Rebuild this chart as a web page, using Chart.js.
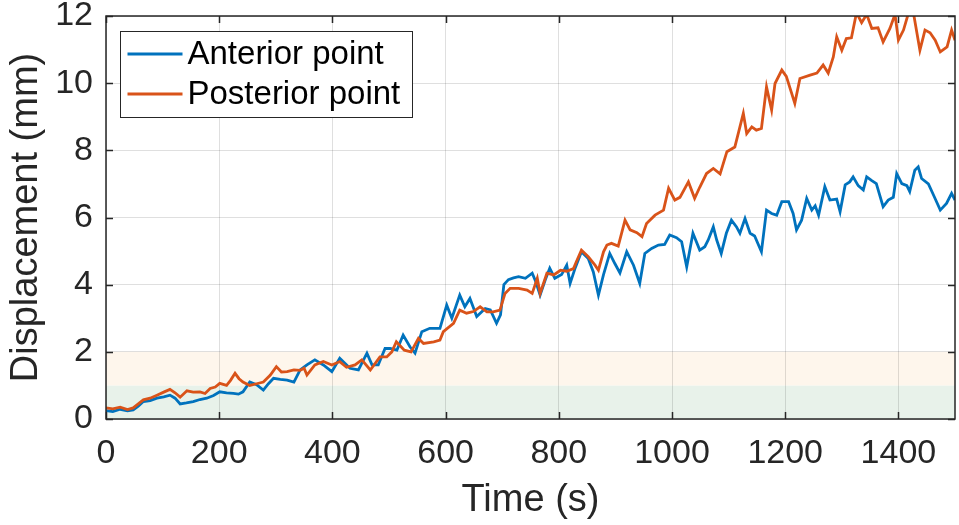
<!DOCTYPE html>
<html lang="en">
  <head>
    <meta charset="UTF-8" />
    <title>Displacement vs Time</title>
    <script src="https://cdn.jsdelivr.net/npm/chart.js"></script>
    <style>
      html,
      body {
        margin: 0;
        padding: 0;
        background: white;
      }
      #chartContainer {
        width: 959px;
        height: 525px;
      }
    </style>
  </head>
  <body>
    <div id="chartContainer">
      <canvas id="dispChart" width="959" height="525"></canvas>
    </div>

    <script>
      // values (time in s, displacement in mm)
      const timeAnterior = [
        0, 12, 25, 38, 48, 57, 66, 78, 90, 102, 113, 122, 131, 142, 154, 166,
        178, 190, 201, 213, 225, 234, 242, 254, 266, 278, 287, 296, 308, 320,
        332, 343, 355, 369, 384, 399, 413, 422, 431, 446, 461, 470, 481, 493,
        502, 514, 525, 537, 546, 558, 572, 590, 602, 611, 625, 634, 643, 655,
        670, 679, 690, 697, 703, 711, 720, 729, 741, 753, 759, 767, 776, 784,
        793, 805, 814, 820, 829, 840, 852, 861, 870, 879, 890, 899, 908, 920,
        932, 943, 952, 964, 976, 987, 996, 1008, 1017, 1026, 1037, 1049, 1058,
        1064, 1073, 1079, 1087, 1096, 1105, 1114, 1120, 1129, 1138, 1146, 1158,
        1167, 1176, 1185, 1194, 1206, 1214, 1220, 1229, 1238, 1247, 1253, 1259,
        1270, 1279, 1291, 1297, 1306, 1314, 1320, 1329, 1338, 1344, 1353, 1361,
        1373, 1382, 1391, 1397, 1406, 1415, 1420, 1429, 1435, 1441, 1453, 1462,
        1474, 1485, 1494, 1500,
      ]
      const anterior = [
        0.25, 0.22, 0.29, 0.24, 0.27, 0.38, 0.52, 0.55, 0.62, 0.66, 0.71, 0.62,
        0.45, 0.48, 0.52, 0.58, 0.62, 0.7, 0.81, 0.78, 0.76, 0.74, 0.81, 1.1,
        1.02, 0.86, 1.05, 1.21, 1.18, 1.16, 1.1, 1.46, 1.61, 1.76, 1.61, 1.41,
        1.81, 1.66, 1.51, 1.46, 1.96, 1.61, 1.61, 2.1, 2.1, 2.05, 2.5, 2.15,
        1.96, 2.6, 2.7, 2.7, 3.39, 3.0, 3.69, 3.34, 3.59, 3.05, 3.29, 3.25,
        2.85, 3.1, 4.0, 4.15, 4.2, 4.24, 4.19, 4.34, 4.1, 3.69, 4.14, 4.49,
        4.19, 4.3, 4.58, 4.04, 4.5, 4.98, 4.78, 4.38, 3.69, 4.3, 4.93, 4.63,
        4.35, 4.98, 4.58, 4.04, 4.93, 5.08, 5.18, 5.2, 5.48, 5.4, 5.28, 4.53,
        5.53, 5.03, 5.13, 5.33, 5.72, 5.33, 4.93, 5.53, 5.92, 5.72, 5.53, 5.97,
        5.53, 5.45, 4.98, 6.22, 6.12, 6.07, 6.47, 6.47, 6.12, 5.63, 5.92, 6.57,
        6.22, 6.35, 6.07, 6.92, 6.52, 6.55, 6.17, 6.97, 7.06, 7.21, 6.95, 6.82,
        7.21, 7.1, 7.01, 6.32, 6.52, 6.6, 7.31, 7.01, 6.95, 6.77, 7.41, 7.51,
        7.16, 7.0, 6.67, 6.22, 6.42, 6.72, 6.52,
      ]

      const timePosterior = [
        0, 12, 25, 38, 48, 57, 66, 78, 90, 102, 113, 122, 131, 143, 154, 166,
        175, 184, 193, 201, 213, 220, 228, 235, 242, 254, 266, 278, 290, 301,
        310, 320, 332, 343, 350, 355, 369, 384, 399, 413, 425, 440, 452, 467,
        484, 496, 505, 513, 527, 539, 552, 561, 579, 590, 596, 614, 625, 637,
        649, 661, 673, 684, 696, 705, 714, 729, 744, 753, 762, 767, 779, 791,
        803, 814, 826, 831, 840, 852, 864, 870, 879, 885, 893, 905, 917, 926,
        938, 947, 955, 970, 985, 994, 1005, 1014, 1029, 1040, 1049, 1061, 1073,
        1085, 1097, 1111, 1120, 1126, 1132, 1141, 1149, 1158, 1167, 1176, 1182,
        1194, 1202, 1217, 1226, 1244, 1256, 1267, 1276, 1285, 1291, 1300, 1308,
        1317, 1326, 1335, 1344, 1353, 1364, 1373, 1385, 1394, 1400, 1409, 1418,
        1426, 1438, 1447, 1456, 1465, 1474, 1486, 1494, 1500,
      ]
      const posterior = [
        0.33, 0.3, 0.35, 0.28, 0.33, 0.45, 0.57, 0.62, 0.71, 0.8, 0.88, 0.78,
        0.65, 0.84, 0.8, 0.81, 0.76, 0.91, 0.95, 1.06, 1.0, 1.15, 1.36, 1.2,
        1.1, 1.0, 1.05, 1.1, 1.3, 1.56, 1.4, 1.41, 1.46, 1.45, 1.51, 1.31,
        1.61, 1.71, 1.61, 1.71, 1.54, 1.61, 1.76, 1.46, 1.85, 1.85, 2.0, 2.3,
        2.05, 2.0, 2.4, 2.25, 2.3, 2.35, 2.6, 2.85, 3.24, 3.15, 3.2, 3.34,
        3.19, 3.19, 3.24, 3.74, 3.89, 3.89, 3.84, 3.74, 4.19, 3.74, 4.34, 4.29,
        4.43, 4.4, 4.48, 4.68, 5.03, 4.83, 4.58, 4.43, 4.98, 5.18, 5.23, 5.15,
        5.92, 5.63, 5.55, 5.43, 5.82, 6.07, 6.22, 6.87, 6.52, 6.6, 7.06, 6.57,
        6.9, 7.31, 7.46, 7.3, 7.96, 8.1, 8.7, 9.1, 8.5, 8.7, 8.6, 8.65, 9.89,
        9.2, 9.99, 10.39, 10.2, 9.4, 10.14, 10.24, 10.3, 10.54, 10.3, 10.78,
        11.38, 10.98, 11.33, 11.35, 12.1, 11.8, 12.05, 11.63, 11.65, 11.23,
        11.63, 12.05, 11.28, 11.58, 12.1, 12.15, 10.98, 11.58, 11.5, 11.28,
        10.93, 11.08, 11.58, 11.28,
      ]

      const xTicks = [0, 200, 400, 600, 800, 1000, 1200, 1400]
      const yTicks = [0, 2, 4, 6, 8, 10, 12]
      const bandEdges = [0, 1, 2]

      const bandColors = ['#e8f2ea', '#fef6ec']
      const textColor = '#262626'
      const fontFamily = '"Liberation Sans", Arial, Helvetica, sans-serif'

      const toPoints = (xs, ys) => xs.map((x, i) => ({ x: x, y: ys[i] }))

      // shaded bands, box, inside ticks and legend like the MATLAB figure
      const framePlugin = {
        id: 'framePlugin',
        beforeDraw(chart) {
          const { ctx, chartArea: a, scales } = chart
          ctx.save()
          for (let i = 0; i < bandEdges.length - 1; i++) {
            const top = scales.y.getPixelForValue(bandEdges[i + 1])
            const bottom = scales.y.getPixelForValue(bandEdges[i])
            ctx.fillStyle = bandColors[i]
            ctx.fillRect(a.left, top, a.right - a.left, bottom - top)
          }
          ctx.restore()
        },
        afterDatasetsDraw(chart) {
          const { ctx, chartArea: a, scales } = chart
          const tick = 7
          ctx.save()
          ctx.strokeStyle = textColor
          ctx.lineWidth = 1.5
          ctx.beginPath()
          xTicks.forEach((v) => {
            const px = Math.round(scales.x.getPixelForValue(v)) + 0.5
            ctx.moveTo(px, a.bottom)
            ctx.lineTo(px, a.bottom - tick)
            ctx.moveTo(px, a.top)
            ctx.lineTo(px, a.top + tick)
          })
          yTicks.forEach((v) => {
            const py = Math.round(scales.y.getPixelForValue(v)) + 0.5
            ctx.moveTo(a.left, py)
            ctx.lineTo(a.left + tick, py)
            ctx.moveTo(a.right, py)
            ctx.lineTo(a.right - tick, py)
          })
          ctx.stroke()
          ctx.strokeRect(a.left, a.top, a.right - a.left, a.bottom - a.top)

          // legend box
          const lx = a.left + 14.5
          const ly = a.top + 15.5
          const lw = 292
          const lh = 86
          ctx.fillStyle = 'white'
          ctx.fillRect(lx, ly, lw, lh)
          ctx.lineWidth = 1
          ctx.strokeRect(lx, ly, lw, lh)
          ctx.font = '33px ' + fontFamily
          ctx.textBaseline = 'middle'
          ctx.textAlign = 'left'
          chart.data.datasets.forEach((ds, i) => {
            const rowY = ly + 22.5 + i * 40
            ctx.strokeStyle = ds.borderColor
            ctx.lineWidth = 2.8
            ctx.beginPath()
            ctx.moveTo(lx + 7, rowY)
            ctx.lineTo(lx + 62, rowY)
            ctx.stroke()
            ctx.fillStyle = '#000'
            ctx.fillText(ds.label, lx + 67, rowY + 1)
          })
          ctx.restore()
        },
      }

      const ctx = document.getElementById('dispChart').getContext('2d')
      const dispChart = new Chart(ctx, {
        type: 'line',
        data: {
          datasets: [
            {
              label: 'Anterior point',
              data: toPoints(timeAnterior, anterior),
              borderColor: '#0072BD',
              borderWidth: 2.8,
              pointRadius: 0,
              tension: 0,
              clip: 0,
              order: 1,
            },
            {
              label: 'Posterior point',
              data: toPoints(timePosterior, posterior),
              borderColor: '#D95319',
              borderWidth: 2.8,
              pointRadius: 0,
              tension: 0,
              clip: 0,
              order: 0,
            },
          ],
        },
        options: {
          responsive: false,
          animation: false,
          devicePixelRatio: 1,
          events: [],
          layout: { padding: { top: 16, right: 4, left: 0, bottom: 0 } },
          plugins: {
            legend: { display: false },
            tooltip: { enabled: false },
          },
          scales: {
            x: {
              type: 'linear',
              min: 0,
              max: 1500,
              afterBuildTicks: (s) => {
                s.ticks = xTicks.map((v) => ({ value: v }))
              },
              afterFit: (s) => {
                s.height = 106
                s.paddingLeft = 0
                s.paddingRight = 0
              },
              grid: { color: 'rgba(38,38,38,0.15)', drawTicks: false },
              border: { display: false },
              ticks: {
                autoSkip: false,
                maxRotation: 0,
                padding: 14,
                color: textColor,
                font: { family: fontFamily, size: 34 },
                callback: (v) => String(v),
              },
              title: {
                display: true,
                text: 'Time (s)',
                color: textColor,
                font: { family: fontFamily, size: 38 },
                padding: { top: 0, bottom: 2 },
              },
            },
            y: {
              min: 0,
              max: 12,
              afterBuildTicks: (s) => {
                s.ticks = yTicks.map((v) => ({ value: v }))
              },
              afterFit: (s) => {
                s.width = 106
                s.paddingTop = 0
                s.paddingBottom = 0
              },
              grid: { color: 'rgba(38,38,38,0.15)', drawTicks: false },
              border: { display: false },
              ticks: {
                padding: 13,
                color: textColor,
                font: { family: fontFamily, size: 34 },
                callback: (v) => String(v),
              },
              title: {
                display: true,
                text: 'Displacement (mm)',
                color: textColor,
                font: { family: fontFamily, size: 38 },
                padding: { top: 4, bottom: 0 },
              },
            },
          },
        },
        plugins: [framePlugin],
      })
    </script>
  </body>
</html>
